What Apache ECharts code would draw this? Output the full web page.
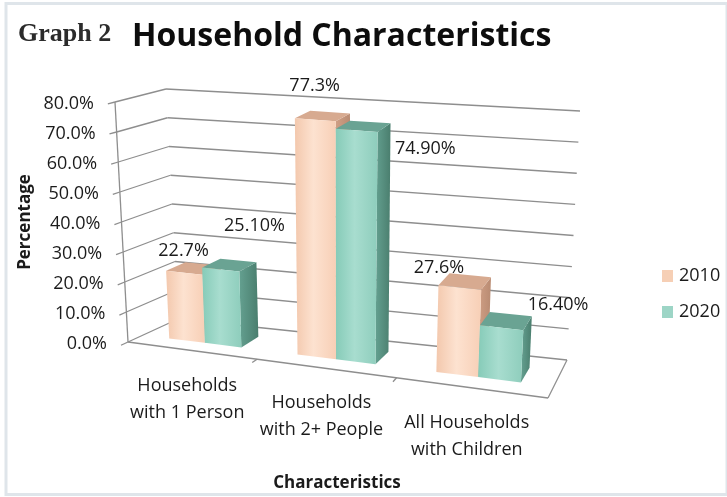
<!DOCTYPE html>
<html>
<head>
<meta charset="utf-8">
<script src="https://cdn.jsdelivr.net/npm/echarts@6/dist/echarts.min.js"></script>
<style>
html,body{margin:0;padding:0;background:#fff;}
#chart{width:727px;height:497px;}
</style>
</head>
<body>
<div id="chart"></div>
<script>
// ---- data ----
const CATEGORIES = ['Households\nwith 1 Person', 'Households\nwith 2+ People', 'All Households\nwith Children'];
const SERIES_NAMES = ['2010', '2020'];
const VALUES_2010 = [22.7, 77.3, 27.6];
const VALUES_2020 = [25.1, 74.9, 16.4];
const TICK_VALUES = [0, 10, 20, 30, 40, 50, 60, 70, 80];
const TICK_LABELS = ['0.0%', '10.0%', '20.0%', '30.0%', '40.0%', '50.0%', '60.0%', '70.0%', '80.0%'];

// ---- styling / layout ----
const FONT = '"Open Sans"';
const TEXT_COLOR = '#1b1b1b';
const LINE_COLOR = '#8e8e8e';
// perspective box corners (layout of the 3D frame): [u][v][z]
const BOX = {
  p000: [128, 342], p010: [115, 102], p001: [178, 319], p011: [166, 89],
  p100: [548, 398], p110: [562, 138], p101: [567, 360], p111: [580, 111]
};
const PERSP = -0.113;
const GAP = 1.5;
const Z0 = 0.3, Z1 = 0.7;
const LABEL_DECIMALS = [1, 2];
const LABEL_NUDGE = [
  [[-10, -18], [-8, -30], [-26, -13]],
  [[25, -39], [62, 23], [52, -16]]
];
const STYLES = [
  { legend: '#f6cfb5', front: ['#f3c8ad', '#fde2d0', '#f7cfb6'], top: '#d7aa90', side: ['#cf9f85', '#b98b72'] },
  { legend: '#9dd5c6', front: ['#86cbb8', '#a8ddcf', '#8ecdbc'], top: '#6aa393', side: ['#64a090', '#4a7e6e'] }
];

function lerp(a, b, t) { return [a[0] + (b[0] - a[0]) * t, a[1] + (b[1] - a[1]) * t]; }
function proj(u, v, z) {
  const w = u * (1 + PERSP) / (1 + PERSP * u);
  const f = lerp(lerp(BOX.p000, BOX.p100, w), lerp(BOX.p010, BOX.p110, w), v);
  const b = lerp(lerp(BOX.p001, BOX.p101, w), lerp(BOX.p011, BOX.p111, w), v);
  return lerp(f, b, z);
}
function line(a, b, extra) {
  return Object.assign({ type: 'line', shape: { x1: a[0], y1: a[1], x2: b[0], y2: b[1] },
    style: { stroke: LINE_COLOR, lineWidth: 1.3 } }, extra || {});
}
function poly(pts, fill) {
  return { type: 'polygon', shape: { points: pts }, style: { fill: fill, stroke: null } };
}
function norm(cs, pt) {
  return [(pt[0] - cs.x) / cs.width, (cs.y + cs.height - pt[1]) / cs.height];
}

const chart = echarts.init(document.getElementById('chart'), null, { renderer: 'canvas' });

function frameItem(params, api) {
  const cs = params.coordSys;
  const val = api.value(0);
  const v = norm(cs, api.coord([0, val]))[1];
  const children = [];
  const fl = proj(0, v, 0), bl = proj(0, v, 1), br = proj(1, v, 1), tk = proj(0, v, -0.14);
  children.push(line(fl, bl), line(bl, br), line(tk, fl));
  children.push({ type: 'text', style: { text: TICK_LABELS[params.dataIndex], x: fl[0] - 21, y: fl[1] + 2,
    align: 'right', verticalAlign: 'middle', font: '18px ' + FONT, fill: TEXT_COLOR } });
  if (params.dataIndex === 0) {
    const top = norm(cs, api.coord([0, TICK_VALUES[TICK_VALUES.length - 1]]))[1];
    children.push(line(proj(0, 0, 0), proj(0, top, 0)));
    children.push(line(proj(0, 0, 0), proj(1, 0, 0)));
    children.push(line(proj(1, 0, 0), proj(1, 0, 1)));
  }
  return { type: 'group', children: children };
}

function catItem(params, api) {
  const cs = params.coordSys;
  const i = api.value(0);
  const cx = norm(cs, api.coord([i, 0]))[0];
  const bw = api.size([1, 0])[0] / cs.width;
  const children = [];
  const ub = cx + bw / 2;
  if (ub < 0.999) children.push(line(proj(ub, 0, 0), proj(ub, 0, -0.12)));
  const c = proj(cx, 0, 0);
  const lines = CATEGORIES[params.dataIndex].split('\n');
  lines.forEach(function (t, k) {
    children.push({ type: 'text', style: { text: t, x: c[0] - 4, y: c[1] + 35 + k * 27, align: 'center',
      verticalAlign: 'middle', font: '18px ' + FONT, fill: TEXT_COLOR } });
  });
  return { type: 'group', children: children };
}

function barItem(s) {
  return function (params, api) {
    const cs = params.coordSys;
    const i = api.value(0), val = api.value(1);
    const uc = norm(cs, api.coord([i, 0]))[0];
    const bw = api.size([1, 0])[0] / cs.width;
    const w = bw / (2 + GAP);
    const u0 = uc - w + s * w, u1 = u0 + w;
    const v = norm(cs, api.coord([i, val]))[1];
    const st = STYLES[s];
    const front = [proj(u0, 0, Z0), proj(u1, 0, Z0), proj(u1, v, Z0), proj(u0, v, Z0)];
    const top = [proj(u0, v, Z0), proj(u1, v, Z0), proj(u1, v, Z1), proj(u0, v, Z1)];
    const side = [proj(u1, 0, Z0), proj(u1, 0, Z1), proj(u1, v, Z1), proj(u1, v, Z0)];
    const frontFill = new echarts.graphic.LinearGradient(0, 0, 1, 0, [
      { offset: 0, color: st.front[0] }, { offset: 0.45, color: st.front[1] }, { offset: 1, color: st.front[2] }]);
    const sideFill = new echarts.graphic.LinearGradient(0, 0, 1, 0, [
      { offset: 0, color: st.side[0] }, { offset: 1, color: st.side[1] }]);
    const anchor = proj((u0 + u1) / 2, v, 0.5);
    const nudge = LABEL_NUDGE[s][params.dataIndex];
    return { type: 'group', children: [
      poly(side, sideFill), poly(top, st.top), poly(front, frontFill),
      { type: 'text', z2: 10, style: { text: val.toFixed(LABEL_DECIMALS[s]) + '%', x: anchor[0] + nudge[0], y: anchor[1] + nudge[1],
        align: 'center', verticalAlign: 'middle', font: '18px ' + FONT, fill: TEXT_COLOR } }
    ] };
  };
}

const seriesValues = [VALUES_2010, VALUES_2020];

const option = {
  animation: false,
  backgroundColor: '#ffffff',
  grid: { left: 128, top: 102, width: 420, height: 240, show: false },
  xAxis: { type: 'category', data: CATEGORIES, show: false },
  yAxis: { type: 'value', min: 0, max: 80, interval: 10, show: false },
  legend: {
    data: SERIES_NAMES, orient: 'vertical', left: 662, top: 267, padding: 0, itemWidth: 11, itemHeight: 12,
    itemGap: 18, icon: 'rect', textStyle: { fontFamily: 'Open Sans', fontSize: 18, color: TEXT_COLOR, padding: [0, 0, 0, 1] }
  },
  graphic: [
    { type: 'rect', shape: { x: 6, y: 3.5, width: 721, height: 491 }, style: { fill: null, stroke: '#dfe5ea', lineWidth: 3 }, silent: true },
    { type: 'text', style: { text: 'Graph 2', x: 18, y: 34, verticalAlign: 'middle', font: 'bold 26px "Liberation Serif"', fill: '#2b2b2b' } },
    { type: 'text', style: { text: 'Household Characteristics', x: 132, y: 37, verticalAlign: 'middle', font: 'bold 32px ' + FONT, fill: '#0d0d0d' } },
    { type: 'text', rotation: Math.PI / 2, x: 25, y: 222, style: { text: 'Percentage', align: 'center', verticalAlign: 'middle', font: 'bold 17px ' + FONT, fill: TEXT_COLOR } },
    { type: 'text', style: { text: 'Characteristics', x: 337, y: 483, align: 'center', verticalAlign: 'middle', font: 'bold 17px ' + FONT, fill: TEXT_COLOR } }
  ],
  series: [
    { type: 'custom', name: 'frame', z: 1, silent: true, renderItem: frameItem,
      data: TICK_VALUES.map(function (t) { return [t]; }), encode: { y: 0 } },
    { type: 'custom', name: 'cats', z: 1, silent: true, renderItem: catItem,
      data: CATEGORIES.map(function (c, i) { return [i, 0]; }), encode: { x: 0, y: 1 } }
  ].concat(SERIES_NAMES.map(function (name, s) {
    return { type: 'custom', name: name, z: 2 + s, renderItem: barItem(s),
      itemStyle: { color: STYLES[s].legend },
      data: seriesValues[s].map(function (v, i) { return [i, v]; }), encode: { x: 0, y: 1 } };
  }))
};
chart.setOption(option);
</script>
</body>
</html>
